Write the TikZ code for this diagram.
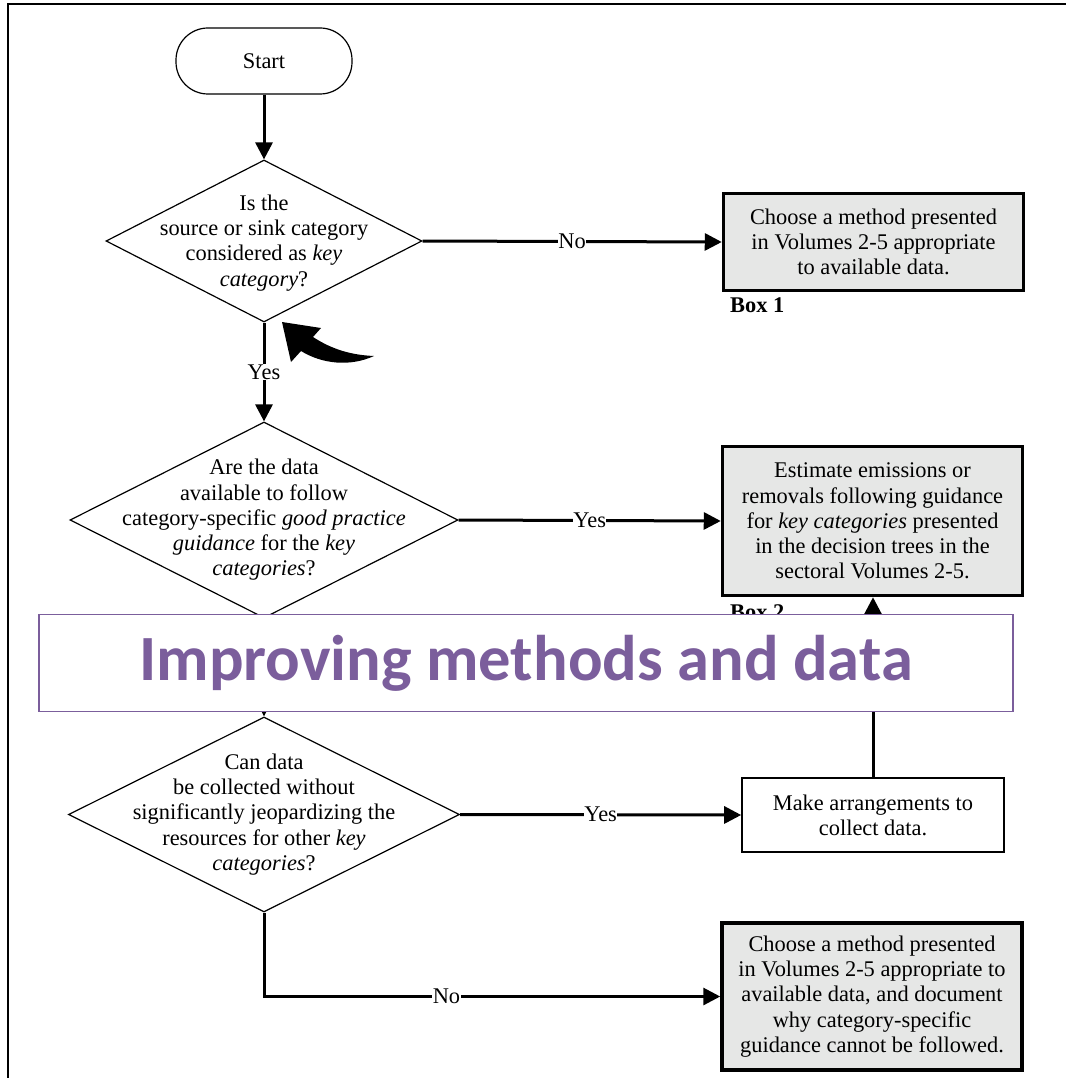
\documentclass[tikz,border=0pt]{standalone}
\usepackage{fontspec}
\setmainfont{Liberation Serif}
\newfontfamily\bannerfont{Carlito}
\usetikzlibrary{arrows.meta,shapes.geometric,positioning}
\definecolor{boxgray}{HTML}{E6E7E6}
\definecolor{bannerpurple}{HTML}{7B5E9C}

\begin{document}
\begin{tikzpicture}[x=1pt,y=-1pt]
\tikzset{
  basefont/.style={font=\fontsize{22.4}{25.2}\selectfont},
  startnode/.style={rectangle,rounded corners=32pt,draw=black,line width=1.2pt,minimum width=176pt,minimum height=66pt,basefont},
  decision/.style={diamond,draw=black,line width=1.2pt,inner sep=0pt},
  decisiontext/.style={align=center,basefont,inner sep=0pt},
  keybox/.style={rectangle,draw=black,line width=3.5pt,fill=boxgray,align=center,basefont,inner sep=2pt},
  plainbox/.style={rectangle,draw=black,line width=1.6pt,fill=white,align=center,basefont},
  boxlabel/.style={anchor=west,inner sep=0pt,font=\fontsize{22.4}{25.2}\selectfont\bfseries},
  flowedge/.style={draw=black,line width=3pt},
  directed/.style={flowedge,-{Triangle[length=17pt,width=17pt]}},
  edgelabel/.style={fill=white,inner sep=0.5pt,basefont},
  banner/.style={rectangle,draw=bannerpurple,line width=1.5pt,fill=white,text=bannerpurple,font=\bannerfont\bfseries\fontsize{64.5}{70}\selectfont,minimum width=974pt,minimum height=97pt}
}
\useasboundingbox (0,0) rectangle (1066,1078);
\draw[line width=2.5pt] (8,1078) -- (8,4) -- (1066,4);
% left column
\node[startnode] (n_start) at (264,61) {Start};
\node[decision,minimum width=316pt,minimum height=162pt] (n_q1) at (264,241) {};
\node[decisiontext] (n_q1text) at ([yshift=-2pt]n_q1) {Is the\\source or sink category\\considered as \textit{key}\\\textit{category}?};
\node[decision,minimum width=388pt,minimum height=196pt] (n_q2) at (264,520) {};
\node[decisiontext] (n_q2text) at (n_q2) {Are the data\\available to follow\\category-specific \textit{good practice}\\\textit{guidance} for the \textit{key}\\\textit{categories}?};
\node[decision,minimum width=391pt,minimum height=195pt] (n_q3) at (264,814.5) {};
\node[decisiontext] (n_q3text) at (n_q3) {Can data\\be collected without\\significantly jeopardizing the\\resources for other \textit{key}\\\textit{categories}?};
% right column
\node[keybox,minimum width=300pt,minimum height=97pt] (n_box1) at (873.5,242) {Choose a method presented\\in Volumes 2-5 appropriate\\to available data.};
\node[boxlabel] (n_lab1) at (730,305) {Box 1};
\node[keybox,minimum width=300pt,minimum height=149pt] (n_box2) at (872.5,521) {Estimate emissions or\\removals following guidance\\for \textit{key categories} presented\\in the decision trees in the\\sectoral Volumes 2-5.};
\node[boxlabel] (n_lab2) at (730,612) {Box 2};
\node[plainbox,minimum width=262pt,minimum height=74pt] (n_make) at (873,815) {Make arrangements to\\collect data.};
\node[keybox,minimum width=300pt,minimum height=147pt] (n_box3) at (872,996.5) {Choose a method presented\\in Volumes 2-5 appropriate to\\available data, and document\\why category-specific\\guidance cannot be followed.};
% connectors
\draw[directed] (n_start) -- (n_q1);
\draw[directed] (n_q1.east) -- (n_box1.west) node[edgelabel,midway] {No};
\draw[directed] (n_q1) -- (n_q2) node[edgelabel,midway] {Yes};
\draw[directed] (n_q2.east) -- (n_box2.west) node[edgelabel,midway] {Yes};
\draw[directed] (n_q2) -- (n_q3);
\draw[directed] (n_q3.east) -- (n_make.west) node[edgelabel,midway] {Yes};
\draw[directed] (n_q3.south) |- (n_box3.west) node[edgelabel,pos=0.70] {No};
\draw[directed] (n_make.north) -- (n_make.north |- n_box2.south);
% pointer
\fill[black] (282,322) -- (321,328) -- (313,337) .. controls (333,350) and (352,355) .. (374,356)
  .. controls (350,367) and (322,364) .. (301,351) -- (291,362) -- cycle;
% overlay
\node[banner] (n_banner) at (526,663) {Improving methods and data};
\end{tikzpicture}
\end{document}
